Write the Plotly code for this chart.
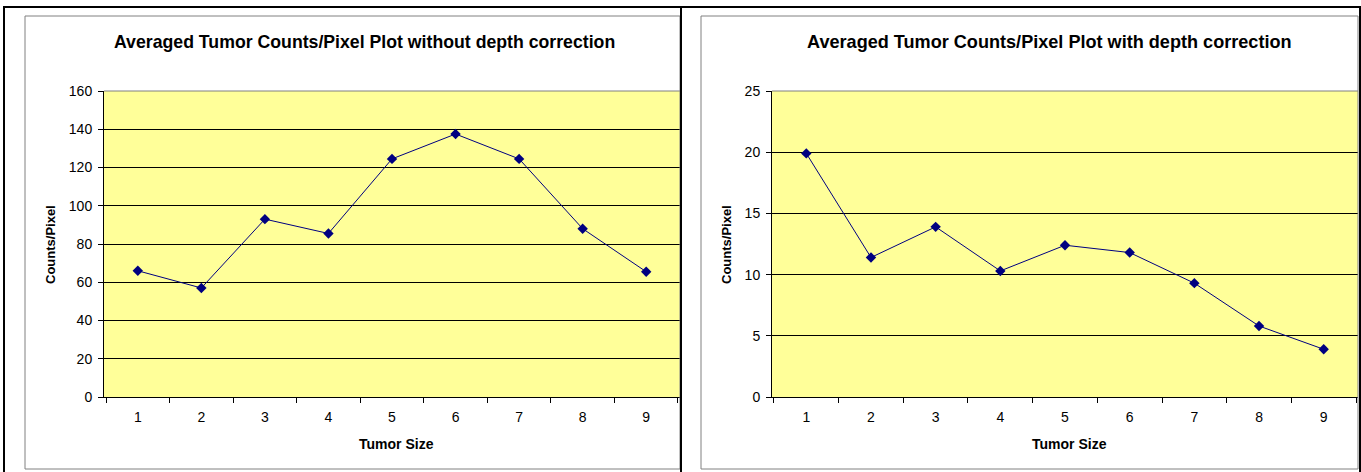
import plotly.graph_objects as go

W, H = 1361, 472

# ---- data ----
tumor_size = ["1", "2", "3", "4", "5", "6", "7", "8", "9"]
counts_without = [66, 57, 93, 85.5, 124.5, 137.5, 124.5, 88, 65.5]
counts_with = [19.9, 11.4, 13.9, 10.3, 12.4, 11.8, 9.3, 5.8, 3.9]
title_left = "Averaged Tumor Counts/Pixel Plot without depth correction"
title_right = "Averaged Tumor Counts/Pixel Plot with depth correction"
x_title = "Tumor Size"
y_title = "Counts/Pixel"


def px(x):
    return x / W


def py(y):
    return 1 - y / H


NAVY = "#000080"
YELLOW = "#FFFF99"
FONT = "Liberation Sans, Arial, sans-serif"

fig = go.Figure()
fig.add_trace(go.Scatter(x=tumor_size, y=counts_without, mode="lines+markers",
                         line=dict(color=NAVY, width=1),
                         marker=dict(symbol="diamond", size=8, color=NAVY),
                         xaxis="x", yaxis="y", showlegend=False))
fig.add_trace(go.Scatter(x=tumor_size, y=counts_with, mode="lines+markers",
                         line=dict(color=NAVY, width=1),
                         marker=dict(symbol="diamond", size=8, color=NAVY),
                         xaxis="x2", yaxis="y2", showlegend=False))

plot_top, plot_bot = 91, 397
left_plot = (104, 680)
right_plot = (772, 1358)

xcommon = dict(type="category", tickson="boundaries", ticks="outside", ticklen=5,
               tickcolor="black", showline=True, linecolor="black", linewidth=1,
               showgrid=False, zeroline=False, fixedrange=True, ticklabelstandoff=7,
               automargin=False,
               tickfont=dict(family=FONT, size=14, color="black"))
ycommon = dict(ticks="outside", ticklen=5, tickcolor="black", showline=True,
               linecolor="black", linewidth=1, showgrid=True, gridcolor="black",
               gridwidth=1, zeroline=False, fixedrange=True, ticklabelstandoff=3,
               automargin=False,
               tickfont=dict(family=FONT, size=14, color="black"))

shapes = []
# plot backgrounds
for (x0, x1) in (left_plot, right_plot):
    shapes.append(dict(type="rect", xref="paper", yref="paper", x0=px(x0), x1=px(x1),
                       y0=py(plot_bot), y1=py(plot_top), fillcolor=YELLOW,
                       line=dict(width=0), layer="below"))
    shapes.append(dict(type="line", xref="paper", yref="paper", x0=px(x0), x1=px(x1),
                       y0=py(plot_top), y1=py(plot_top),
                       line=dict(color="#808080", width=1), layer="above"))
# grey inner chart boxes
for (x0, x1) in ((25, 680), (701, 1358)):
    shapes.append(dict(type="rect", xref="paper", yref="paper", x0=px(x0), x1=px(x1),
                       y0=py(469), y1=py(16), line=dict(color="#808080", width=1),
                       fillcolor="rgba(0,0,0,0)", layer="above"))
# black outer frame
shapes.append(dict(type="line", xref="paper", yref="paper", x0=px(3), x1=px(1361),
                   y0=py(7), y1=py(7), line=dict(color="black", width=2)))
for xv in (4, 681, 1360):
    shapes.append(dict(type="line", xref="paper", yref="paper", x0=px(xv), x1=px(xv),
                       y0=py(7), y1=py(472), line=dict(color="black", width=2)))

annotations = [
    dict(text="<b>%s</b>" % title_left, x=px(364), y=py(42), xref="paper", yref="paper",
         showarrow=False, xanchor="center", yanchor="middle",
         font=dict(family=FONT, size=17.7, color="black")),
    dict(text="<b>%s</b>" % title_right, x=px(1049), y=py(42), xref="paper", yref="paper",
         showarrow=False, xanchor="center", yanchor="middle",
         font=dict(family=FONT, size=18.1, color="black")),
    dict(text="<b>%s</b>" % x_title, x=px(396), y=py(444), xref="paper", yref="paper",
         showarrow=False, xanchor="center", yanchor="middle",
         font=dict(family=FONT, size=14, color="black")),
    dict(text="<b>%s</b>" % x_title, x=px(1069), y=py(444), xref="paper", yref="paper",
         showarrow=False, xanchor="center", yanchor="middle",
         font=dict(family=FONT, size=14, color="black")),
    dict(text="<b>%s</b>" % y_title, x=px(51), y=py(245), xref="paper", yref="paper",
         showarrow=False, xanchor="center", yanchor="middle", textangle=-90,
         font=dict(family=FONT, size=13, color="black")),
    dict(text="<b>%s</b>" % y_title, x=px(727), y=py(245), xref="paper", yref="paper",
         showarrow=False, xanchor="center", yanchor="middle", textangle=-90,
         font=dict(family=FONT, size=13, color="black")),
]

fig.update_layout(
    width=W, height=H, margin=dict(l=0, r=0, t=0, b=0, autoexpand=False),
    paper_bgcolor="white", plot_bgcolor="rgba(0,0,0,0)",
    xaxis=dict(domain=[px(left_plot[0]), px(left_plot[1])], anchor="y", **xcommon),
    yaxis=dict(domain=[py(plot_bot), py(plot_top)], anchor="x", range=[0, 160],
               dtick=20, tick0=0, **ycommon),
    xaxis2=dict(domain=[px(right_plot[0]), px(right_plot[1])], anchor="y2", **xcommon),
    yaxis2=dict(domain=[py(plot_bot), py(plot_top)], anchor="x2", range=[0, 25],
                dtick=5, tick0=0, **ycommon),
    shapes=shapes, annotations=annotations,
)

fig.write_html("out.html", config={"displayModeBar": False})
